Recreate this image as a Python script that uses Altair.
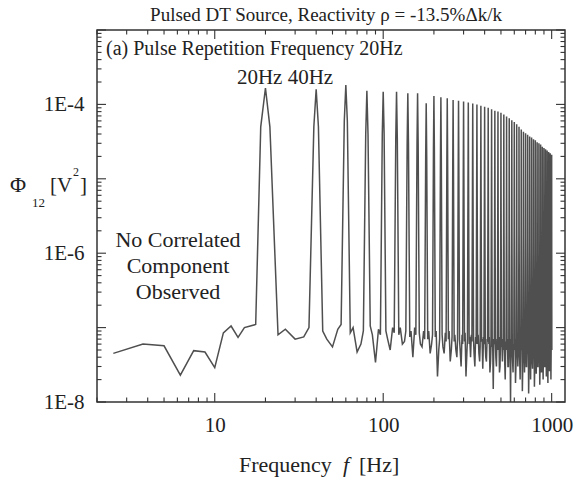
import altair as alt
import pandas as pd

# ---------------- data ----------------
# low-frequency part (no correlated component), Hz and V^2
low_f = [2.5, 3.75, 5.0, 6.25, 7.5, 8.75, 10.0, 11.25, 12.5, 13.75, 15.0, 16.25, 17.5]
low_v = [4.5e-8, 6.0e-8, 5.7e-8, 2.3e-8, 4.9e-8, 4.7e-8, 2.9e-8, 8.5e-8, 1.05e-7,
         7.4e-8, 1.0e-7, 1.05e-7, 1.1e-7]

# harmonics of the 20 Hz pulse repetition frequency
harm_f = [20, 40, 60, 80, 100, 120, 140, 160, 180, 200,
          220, 240, 260, 280, 300, 320, 340, 360, 380, 400,
          420, 440, 460, 480, 500, 520, 540, 560, 580, 600,
          620, 640, 660, 680, 700, 720, 740, 760, 780, 800,
          820, 840, 860, 880, 900, 920, 940, 960, 980, 1000]
harm_top = [1.66e-4, 1.60e-4, 1.82e-4, 1.53e-4, 1.48e-4, 1.48e-4, 1.41e-4, 1.41e-4, 1.04e-4, 1.30e-4,
            1.25e-4, 1.21e-4, 1.15e-4, 1.12e-4, 1.09e-4, 1.06e-4, 1.03e-4, 1.00e-4, 9.6e-5, 9.3e-5,
            9.0e-5, 8.6e-5, 8.2e-5, 8.0e-5, 7.7e-5, 7.3e-5, 6.9e-5, 6.5e-5, 6.1e-5, 5.8e-5,
            5.4e-5, 5.0e-5, 4.6e-5, 4.3e-5, 4.1e-5, 3.9e-5, 3.7e-5, 3.6e-5, 3.4e-5, 3.3e-5,
            3.1e-5, 3.0e-5, 2.9e-5, 2.7e-5, 2.6e-5, 2.5e-5, 2.4e-5, 2.3e-5, 2.2e-5, 2.1e-5]
# value one bin (1.25 Hz) either side of each harmonic
harm_sh = [5.0e-5, 5.0e-5, 6.0e-5, 4.0e-5, 4.0e-5, 3.5e-5, 3.0e-5, 3.0e-5, 2.0e-5, 2.5e-5,
           2.0e-5, 1.8e-5, 1.5e-5, 1.3e-5, 1.1e-5, 9.0e-6, 8.0e-6, 7.0e-6, 6.0e-6, 5.5e-6,
           5.0e-6, 4.5e-6, 4.0e-6, 3.6e-6, 3.3e-6, 3.0e-6, 2.7e-6, 2.5e-6, 2.3e-6, 2.1e-6,
           1.9e-6, 1.8e-6, 1.7e-6, 1.6e-6, 1.5e-6, 1.4e-6, 1.3e-6, 1.25e-6, 1.2e-6, 1.15e-6,
           1.1e-6, 1.05e-6, 1.0e-6, 9.5e-7, 9.0e-7, 8.5e-7, 8.0e-7, 7.5e-7, 7.0e-7, 6.5e-7]
# background noise in the gap after each harmonic, at +3.75, +6.25, +10, +13.75, +16.25 Hz
gap_a = [8.0e-8, 9.0e-8, 8.5e-8, 1.05e-7, 9.0e-8, 8.0e-8, 7.5e-8, 8.5e-8, 7.0e-8, 7.5e-8,
         8.0e-8, 7.0e-8, 6.5e-8, 7.0e-8, 6.5e-8, 6.0e-8, 7.0e-8, 6.0e-8, 6.5e-8, 5.5e-8,
         6.0e-8, 5.5e-8, 6.5e-8, 5.0e-8, 5.5e-8, 6.0e-8, 5.0e-8, 5.5e-8, 4.5e-8, 5.0e-8,
         5.5e-8, 4.5e-8, 5.0e-8, 5.5e-8, 4.5e-8, 5.0e-8, 4.5e-8, 5.0e-8, 5.5e-8, 4.5e-8,
         5.0e-8, 4.5e-8, 5.0e-8, 5.5e-8, 4.5e-8, 5.0e-8, 4.5e-8, 5.0e-8, 4.5e-8, 5.0e-8]
gap_c = [9.5e-8, 7.0e-8, 1.0e-7, 8.0e-8, 7.0e-8, 1.0e-7, 9.0e-8, 6.0e-8, 9.0e-8, 9.0e-8,
         5.5e-8, 9.0e-8, 8.0e-8, 5.0e-8, 8.5e-8, 7.5e-8, 4.5e-8, 8.0e-8, 7.0e-8, 4.0e-8,
         7.5e-8, 7.0e-8, 4.0e-8, 7.5e-8, 6.5e-8, 3.5e-8, 7.0e-8, 6.5e-8, 3.5e-8, 7.0e-8,
         6.0e-8, 3.5e-8, 7.0e-8, 6.0e-8, 3.0e-8, 7.0e-8, 6.0e-8, 3.5e-8, 6.5e-8, 6.0e-8,
         3.0e-8, 7.0e-8, 6.0e-8, 3.5e-8, 6.5e-8, 6.0e-8, 3.0e-8, 6.5e-8, 6.0e-8, 6.0e-8]
gap_dip = [7.0e-8, 5.5e-8, 4.7e-8, 3.4e-8, 5.0e-8, 6.0e-8, 4.0e-8, 5.5e-8, 4.5e-8, 2.2e-8,
           4.5e-8, 3.5e-8, 5.0e-8, 3.0e-8, 2.2e-8, 4.0e-8, 3.0e-8, 4.5e-8, 2.8e-8, 3.5e-8,
           2.5e-8, 1.5e-8, 3.0e-8, 2.5e-8, 3.5e-8, 2.0e-8, 3.0e-8, 1.0e-8, 2.5e-8, 1.8e-8,
           3.0e-8, 2.0e-8, 1.4e-8, 2.5e-8, 3.0e-8, 1.3e-8, 2.0e-8, 2.8e-8, 1.6e-8, 2.4e-8,
           3.0e-8, 1.7e-8, 2.5e-8, 2.0e-8, 3.0e-8, 2.2e-8, 1.8e-8, 2.6e-8, 2.0e-8, 2.5e-8]
gap_d = [7.5e-8, 9.5e-8, 6.0e-8, 9.5e-8, 1.0e-7, 6.5e-8, 1.0e-7, 9.0e-8, 6.0e-8, 5.0e-8,
         8.5e-8, 5.0e-8, 4.0e-8, 8.0e-8, 4.5e-8, 8.0e-8, 7.5e-8, 3.5e-8, 7.5e-8, 7.0e-8,
         3.5e-8, 7.0e-8, 7.0e-8, 3.0e-8, 7.0e-8, 6.5e-8, 3.0e-8, 7.0e-8, 6.0e-8, 3.0e-8,
         6.5e-8, 6.5e-8, 3.0e-8, 6.5e-8, 6.0e-8, 3.0e-8, 6.5e-8, 6.0e-8, 3.0e-8, 6.5e-8,
         6.0e-8, 3.0e-8, 6.5e-8, 6.0e-8, 3.0e-8, 6.5e-8, 6.0e-8, 3.0e-8, 6.0e-8, 6.0e-8]
gap_b = [1.0e-7, 1.1e-7, 9.0e-8, 8.0e-8, 8.5e-8, 9.0e-8, 8.0e-8, 7.0e-8, 8.0e-8, 7.0e-8,
         6.5e-8, 7.5e-8, 7.0e-8, 6.0e-8, 7.0e-8, 6.5e-8, 6.0e-8, 5.5e-8, 6.0e-8, 6.5e-8,
         5.5e-8, 6.0e-8, 5.0e-8, 6.0e-8, 5.0e-8, 5.5e-8, 4.5e-8, 5.0e-8, 5.5e-8, 4.5e-8,
         5.0e-8, 5.5e-8, 4.5e-8, 5.0e-8, 4.5e-8, 5.0e-8, 5.5e-8, 4.5e-8, 5.0e-8, 4.5e-8,
         5.0e-8, 5.5e-8, 4.5e-8, 5.0e-8, 4.5e-8, 5.0e-8, 5.5e-8, 5.0e-8, 5.0e-8, 5.0e-8]

# axis labels and texts
x_label_vals = [10, 100, 1000]
y_label_vals = [1e-8, 1e-6, 1e-4]
x_major = [10, 100, 1000]
x_minor = [2, 3, 4, 5, 6, 7, 8, 9, 20, 30, 40, 50, 60, 70, 80, 90,
           200, 300, 400, 500, 600, 700, 800, 900]
y_major = [1e-8, 1e-7, 1e-6, 1e-5, 1e-4, 1e-3]
y_minor = [m * 10.0 ** e for e in range(-8, -3) for m in range(2, 10)]

title_text = "Pulsed DT Source, Reactivity \u03c1 = -13.5%\u0394k/k"
panel_text = "(a) Pulse Repetition Frequency 20Hz"
peak_text = "20Hz 40Hz"
note_lines = ["No Correlated", "Component", "Observed"]

# ---------------- assemble spectrum ----------------
rows = [(f, v) for f, v in zip(low_f, low_v)]
last = len(harm_f) - 1
for i, f in enumerate(harm_f):
    rows.append((f - 1.25, harm_sh[i]))
    rows.append((f, harm_top[i]))
    rows.append((f + 1.25, harm_sh[i]))
    if i < last:
        rows.append((f + 3.75, gap_a[i]))
        rows.append((f + 6.25, gap_c[i]))
        rows.append((f + 10.0, gap_dip[i]))
        rows.append((f + 13.75, gap_d[i]))
        rows.append((f + 16.25, gap_b[i]))
    else:
        rows.append((f + 2.5, gap_a[i]))
spec = pd.DataFrame(rows, columns=["f", "v"])
spec["i"] = range(len(spec))

W, H = 468, 372
FONT = "Liberation Serif"
INK = "#222222"

xs = alt.Scale(type="log", domain=[2, 1200])
ys = alt.Scale(type="log", domain=[1e-8, 1e-3])
x_axis = alt.Axis(values=x_label_vals, format="d", title=None, labelPadding=12,
                  labelFlush=False)
y_axis = alt.Axis(values=y_label_vals, title=None, labelPadding=13,
                  labelExpr="'1E' + round(log(datum.value)/LN10)")

line = alt.Chart(spec).mark_line(color="#303030", strokeWidth=1.5, strokeOpacity=0.85,
                                 clip=True).encode(
    x=alt.X("f:Q", scale=xs, axis=x_axis),
    y=alt.Y("v:Q", scale=ys, axis=y_axis),
    order="i:Q",
)


def xticks(vals, length):
    d = pd.DataFrame({"f": vals})
    base = alt.Chart(d).mark_rule(color="#333333", strokeWidth=1.1)
    enc_x = alt.X("f:Q", scale=xs, axis=x_axis)
    bottom = base.encode(x=enc_x, y=alt.value(H), y2=alt.value(H - length))
    top = base.encode(x=enc_x, y=alt.value(0), y2=alt.value(length))
    return [bottom, top]


def yticks(vals, length):
    d = pd.DataFrame({"v": vals})
    base = alt.Chart(d).mark_rule(color="#333333", strokeWidth=1.1)
    enc_y = alt.Y("v:Q", scale=ys, axis=y_axis)
    left = base.encode(y=enc_y, x=alt.value(0), x2=alt.value(length))
    right = base.encode(y=enc_y, x=alt.value(W), x2=alt.value(W - length))
    return [left, right]


def txt(s, x, y, size, align="left", style="normal"):
    return alt.Chart(pd.DataFrame({"s": [s]})).mark_text(
        align=align, baseline="alphabetic", font=FONT, fontSize=size,
        fontStyle=style, color=INK
    ).encode(x=alt.value(x), y=alt.value(y), text="s:N")


ticks = (xticks(x_major, 9) + xticks(x_minor, 4.5)
         + yticks(y_major, 9) + yticks(y_minor, 4.5))

texts = [
    txt(title_text, W / 2 - 5, -9, 19, align="center"),
    txt(panel_text, 9, 25, 20),
    txt(peak_text, 188, 54, 21, align="center"),
    txt(note_lines[0], 81, 217, 22, align="center"),
    txt(note_lines[1], 81, 243, 22, align="center"),
    txt(note_lines[2], 81, 269, 22, align="center"),
    # y-axis title: Phi_12 [V^2]
    txt("\u03a6", -87, 162, 22),
    txt("12", -65, 177, 13),
    txt("[V", -47, 162, 21),
    txt("2", -24, 146, 12),
    txt("]", -17, 162, 21),
    # x-axis title: Frequency f [Hz]
    txt("Frequency", 142, 442, 22),
    txt("f", 246, 442, 22, style="italic"),
    txt("[Hz]", 262, 442, 22),
]

chart = alt.layer(line, *ticks, *texts).properties(
    width=W, height=H,
    autosize=alt.AutoSizeParams(type="none"),
    padding={"left": 97, "top": 30, "right": 16, "bottom": 82},
).configure_view(
    stroke="#333333", strokeWidth=1.5
).configure_axis(
    grid=False, domain=False, ticks=False,
    labelFont=FONT, labelFontSize=21, labelColor=INK,
)

chart.save("out.html", embed_options={"renderer": "svg", "actions": False})
